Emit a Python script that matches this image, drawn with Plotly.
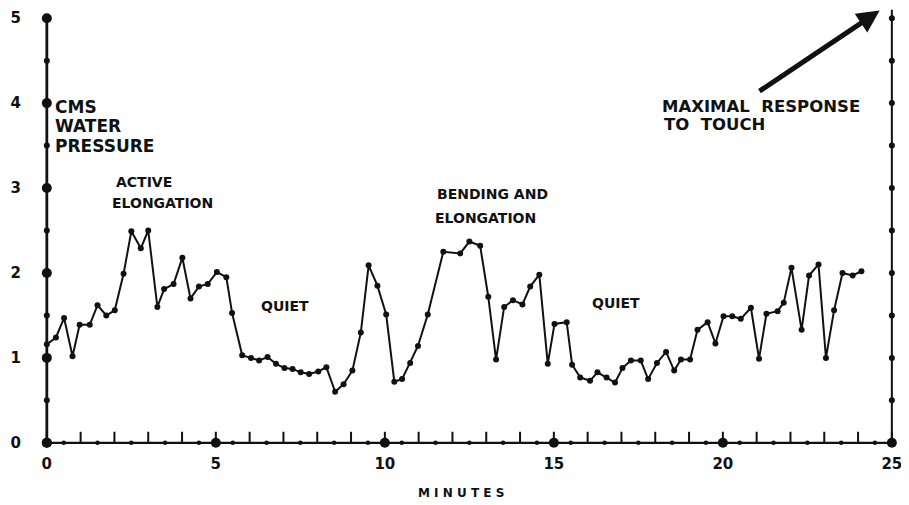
import plotly.graph_objects as go

# ---- data ----
minutes = [0.00, 0.27, 0.51, 0.76, 0.97, 1.27, 1.50, 1.76, 2.01, 2.27, 2.50, 2.78, 3.00,
           3.27, 3.47, 3.75, 4.01, 4.25, 4.50, 4.76, 5.03, 5.31, 5.48, 5.78, 6.04, 6.28,
           6.53, 6.78, 7.03, 7.27, 7.51, 7.76, 8.03, 8.27, 8.53, 8.78, 9.04, 9.29, 9.52,
           9.78, 10.04, 10.28, 10.51, 10.75, 10.98, 11.27, 11.73, 12.23, 12.50, 12.82,
           13.06, 13.29, 13.53, 13.79, 14.07, 14.30, 14.57, 14.82, 15.02, 15.38, 15.54,
           15.78, 16.07, 16.29, 16.56, 16.81, 17.03, 17.28, 17.57, 17.79, 18.05, 18.32,
           18.56, 18.76, 19.03, 19.25, 19.55, 19.78, 20.02, 20.28, 20.53, 20.83, 21.07,
           21.29, 21.62, 21.80, 22.03, 22.33, 22.55, 22.83, 23.05, 23.29, 23.54, 23.84, 24.10]
pressure = [1.16, 1.24, 1.47, 1.02, 1.39, 1.39, 1.62, 1.50, 1.56, 1.99, 2.49, 2.29, 2.50,
            1.60, 1.81, 1.87, 2.18, 1.70, 1.84, 1.87, 2.01, 1.95, 1.53, 1.03, 1.00, 0.97,
            1.01, 0.93, 0.88, 0.87, 0.83, 0.81, 0.84, 0.89, 0.60, 0.69, 0.85, 1.30, 2.09,
            1.85, 1.51, 0.72, 0.75, 0.94, 1.14, 1.51, 2.25, 2.23, 2.37, 2.32,
            1.72, 0.98, 1.60, 1.68, 1.63, 1.84, 1.98, 0.93, 1.40, 1.42, 0.92,
            0.77, 0.73, 0.83, 0.77, 0.71, 0.88, 0.97, 0.97, 0.75, 0.94, 1.07,
            0.85, 0.98, 0.98, 1.33, 1.42, 1.17, 1.49, 1.49, 1.46, 1.59, 0.99,
            1.52, 1.55, 1.65, 2.06, 1.33, 1.97, 2.10, 1.00, 1.56, 2.00, 1.97, 2.02]

x_tick_vals = list(range(0, 26))
x_label_vals = [0, 5, 10, 15, 20, 25]
y_label_vals = [0, 1, 2, 3, 4, 5]
y_half_vals = [0.5, 1.5, 2.5, 3.5, 4.5]
x_half_vals = [v + 0.5 for v in range(0, 25)]
x_max, y_max = 25, 5
y_right_top = 5.1

labels = [
    # text, x (min), y (cms), size
    ("CMS", 0.18, 3.96, 17),
    ("WATER", 0.18, 3.73, 17),
    ("PRESSURE", 0.18, 3.49, 17),
    ("ACTIVE", 1.98, 3.07, 14),
    ("ELONGATION", 1.86, 2.82, 14),
    ("QUIET", 6.28, 1.61, 14),
    ("BENDING AND", 11.47, 2.93, 14),
    ("ELONGATION", 11.41, 2.65, 14),
    ("QUIET", 16.07, 1.65, 14),
    ("MAXIMAL  RESPONSE", 18.15, 3.96, 16.5),
    ("TO  TOUCH", 18.2, 3.75, 16.5),
]

FONT = "DejaVu Sans"
BLACK = "#111111"

fig = go.Figure()

# x axis line and upward tick marks
fig.add_trace(go.Scatter(x=[0, x_max], y=[0, 0], mode="lines",
                         line=dict(color=BLACK, width=2.2), hoverinfo="skip"))
tx, ty = [], []
for v in x_tick_vals:
    tx += [v, v, None]
    ty += [0, 0.13, None]
fig.add_trace(go.Scatter(x=tx, y=ty, mode="lines",
                         line=dict(color=BLACK, width=2), hoverinfo="skip"))
# left and right vertical axes
fig.add_trace(go.Scatter(x=[0, 0], y=[0, y_max], mode="lines",
                         line=dict(color=BLACK, width=2.8), hoverinfo="skip"))
fig.add_trace(go.Scatter(x=[x_max, x_max], y=[0, y_right_top], mode="lines",
                         line=dict(color=BLACK, width=2), hoverinfo="skip"))
# axis dots
fig.add_trace(go.Scatter(x=[0] * len(y_label_vals), y=y_label_vals, mode="markers",
                         marker=dict(color=BLACK, size=10), cliponaxis=False, hoverinfo="skip"))
fig.add_trace(go.Scatter(x=[0] * len(y_half_vals), y=y_half_vals, mode="markers",
                         marker=dict(color=BLACK, size=6), cliponaxis=False, hoverinfo="skip"))
fig.add_trace(go.Scatter(x=x_label_vals, y=[0] * len(x_label_vals), mode="markers",
                         marker=dict(color=BLACK, size=10), cliponaxis=False, hoverinfo="skip"))
fig.add_trace(go.Scatter(x=x_half_vals, y=[0] * len(x_half_vals), mode="markers",
                         marker=dict(color=BLACK, size=4.5), cliponaxis=False, hoverinfo="skip"))
right_dots = y_half_vals + y_label_vals
fig.add_trace(go.Scatter(x=[x_max] * len(right_dots), y=right_dots, mode="markers",
                         marker=dict(color=BLACK, size=6), cliponaxis=False, hoverinfo="skip"))

# data
fig.add_trace(go.Scatter(x=minutes, y=pressure, mode="lines+markers",
                         line=dict(color=BLACK, width=2),
                         marker=dict(color=BLACK, size=6), cliponaxis=False))

for text, x, y, size in labels:
    fig.add_annotation(x=x, y=y, text=text, showarrow=False, xanchor="left", yanchor="middle",
                       font=dict(family=FONT, size=size, color=BLACK, weight="bold"))

fig.add_annotation(x=12.25, xref="x", y=-0.091, yref="paper", text="M I N U T E S",
                   showarrow=False, yanchor="middle",
                   font=dict(family=FONT, size=12, color=BLACK, weight="bold"))

# thick arrow to the top right corner
fig.add_annotation(x=24.64, y=5.09, ax=21.04, ay=4.13, axref="x", ayref="y",
                   text="", showarrow=True, arrowhead=2, arrowsize=0.9,
                   arrowwidth=5, arrowcolor=BLACK, standoff=0)

# the page body adds an 8 px offset, so the figure is sized to fit the window
fig.update_layout(
    width=901, height=497,
    margin=dict(l=27, r=7, t=0, b=52, autoexpand=False),
    paper_bgcolor="white", plot_bgcolor="white",
    showlegend=False,
    xaxis=dict(range=[-0.35, 25.3], showgrid=False, zeroline=False, showline=False,
               automargin=False,
               tickvals=x_label_vals, ticktext=[str(v) for v in x_label_vals],
               ticks="", ticklabelstandoff=0,
               tickfont=dict(family=FONT, size=15, color=BLACK, weight="bold")),
    yaxis=dict(range=[-0.12, 5.12], showgrid=False, zeroline=False, showline=False,
               automargin=False,
               tickvals=y_label_vals, ticktext=[str(v) for v in y_label_vals],
               ticks="", ticklabelstandoff=13,
               tickfont=dict(family=FONT, size=15, color=BLACK, weight="bold")),
)

fig.write_html("out.html")
